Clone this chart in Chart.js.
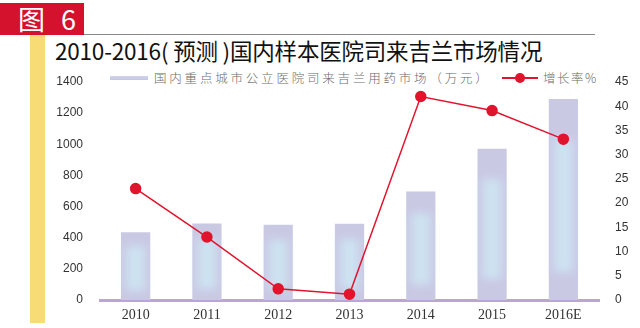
<!DOCTYPE html>
<html>
<head>
<meta charset="utf-8">
<script src="https://cdn.jsdelivr.net/npm/chart.js@4"></script>
<style>
  html, body { margin: 0; padding: 0; background: #fff; }
  #wrap { position: relative; width: 640px; height: 328px; overflow: hidden; font-family: "Noto Sans CJK SC", sans-serif; }
  #tag { position: absolute; left: 0; top: 3px; width: 84px; height: 32px; background: #d5122e; color: #fff;
         font-size: 27px; line-height: 32px; text-indent: 18px; letter-spacing: 5px; }
  #rule { position: absolute; left: 84px; top: 34px; width: 511px; height: 1px; background: #888; }
  #stripe { position: absolute; left: 30px; top: 35px; width: 15px; height: 288px; background: #f7dc75; }
  #title { position: absolute; left: 55px; top: 35px; font-size: 22.5px; line-height: 30px; color: #111; white-space: nowrap; letter-spacing: -0.2px; }
  .legend { position: absolute; top: 69px; font-size: 12.5px; line-height: 18px; color: #6a6a6a; letter-spacing: 2.8px; white-space: nowrap; font-weight: 300; }
  #swatch { position: absolute; left: 110px; top: 76px; width: 38px; height: 4px; background: linear-gradient(#cfd3ea, #c4c7e4); }
  #lineKey { position: absolute; left: 502px; top: 77px; width: 36px; height: 2px; background: #e0142c; }
  #lineKey::after { content: ""; position: absolute; left: 13px; top: -4px; width: 10px; height: 10px; border-radius: 50%; background: #e0142c; }
  canvas { position: absolute; left: 0; top: 0; }
</style>
</head>
<body>
<div id="wrap">
  <div id="tag">图 6</div>
  <div id="rule"></div>
  <div id="stripe"></div>
  <div id="title">2010-2016( 预测 )国内样本医院司来吉兰市场情况</div>
  <div id="swatch"></div>
  <div class="legend" style="left:154px">国内重点城市公立医院司来吉兰用药市场（万元）</div>
  <div id="lineKey"></div>
  <div class="legend" style="left:543px; letter-spacing:1.5px">增长率%</div>
  <canvas id="chartCanvas" width="640" height="328"></canvas>
</div>
<script>
const years  = ['2010', '2011', '2012', '2013', '2014', '2015', '2016E'];
const market = [435, 492, 483, 490, 697, 972, 1291];   // 万元
const growth = [23.0, 13.0, 2.3, 1.2, 42.0, 39.1, 33.2]; // %

const leftTicks  = { min: 0, max: 1400, step: 200 };
const rightTicks = { min: 0, max: 45, step: 5 };

// soft light-blue glow inside each bar
const barGlow = {
  id: 'barGlow',
  afterDatasetDraw(chart, args) {
    if (args.index !== 0) return;
    const ctx = chart.ctx;
    args.meta.data.forEach(bar => {
      const w = bar.width, h = bar.base - bar.y;
      const left = bar.x - w / 2;
      ctx.save();
      ctx.filter = 'blur(4px)';
      const g = ctx.createLinearGradient(left, 0, left + w, 0);
      g.addColorStop(0, 'rgba(205,235,245,0)');
      g.addColorStop(0.35, 'rgba(206,236,246,0.75)');
      g.addColorStop(0.65, 'rgba(206,236,246,0.75)');
      g.addColorStop(1, 'rgba(205,235,245,0)');
      ctx.fillStyle = g;
      ctx.fillRect(left + 3, bar.y + h * 0.2, w - 6, h * 0.66);
      ctx.restore();
    });
  }
};

new Chart(document.getElementById('chartCanvas').getContext('2d'), {
  data: {
    labels: years,
    datasets: [
      {
        type: 'bar',
        label: '国内重点城市公立医院司来吉兰用药市场（万元）',
        data: market,
        yAxisID: 'y',
        backgroundColor: '#cac9e4',
        borderWidth: 0,
        barPercentage: 0.41,
        categoryPercentage: 1,
        order: 1,
      },
      {
        type: 'line',
        label: '增长率%',
        data: growth,
        yAxisID: 'y1',
        borderColor: '#e0142c',
        backgroundColor: '#e0142c',
        borderWidth: 1.5,
        pointRadius: 5,
        pointHoverRadius: 5,
        tension: 0,
        order: 0,
      },
    ],
  },
  options: {
    responsive: false,
    animation: false,
    layout: { padding: { top: 82, bottom: 0, left: 0, right: 0 } },
    plugins: {
      legend: { display: false },
      tooltip: { enabled: false },
    },
    scales: {
      x: {
        grid: { display: false, drawTicks: false },
        border: { display: true, color: '#bba4d6', width: 3 },
        ticks: { color: '#333', padding: 7, font: { family: '"Liberation Serif", serif', size: 14 } },
        afterFit: s => { s.height = 28; },
      },
      y: {
        position: 'left',
        min: leftTicks.min,
        max: leftTicks.max,
        grid: { display: false, drawTicks: false },
        border: { display: false },
        ticks: {
          stepSize: leftTicks.step, color: '#333', padding: 17,
          font: { family: '"Liberation Sans", Arial', size: 12 },
          callback: v => String(v),
        },
        afterFit: s => { s.width = 100; },
      },
      y1: {
        position: 'right',
        min: rightTicks.min,
        max: rightTicks.max,
        grid: { display: false, drawTicks: false },
        border: { display: false },
        ticks: {
          stepSize: rightTicks.step, color: '#333', padding: 16,
          font: { family: '"Liberation Sans", Arial', size: 12 },
          callback: v => String(v),
        },
        afterFit: s => { s.width = 41; },
      },
    },
  },
  plugins: [barGlow],
});
</script>
</body>
</html>
